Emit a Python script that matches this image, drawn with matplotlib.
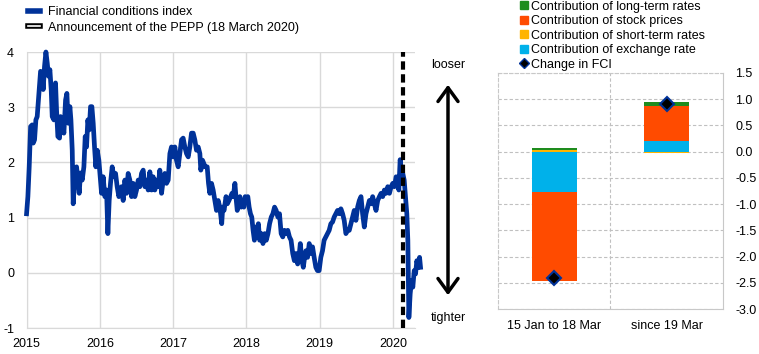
import matplotlib.pyplot as plt
from matplotlib.lines import Line2D
from matplotlib.legend_handler import HandlerTuple

plt.rcParams["font.family"] = ["Liberation Sans", "DejaVu Sans"]
plt.rcParams["axes.unicode_minus"] = False

# financial conditions index (decimal years)
fci_year = [
    2015.000, 2015.018, 2015.036, 2015.055, 2015.077, 2015.091, 2015.109, 2015.127,
    2015.145, 2015.168, 2015.191, 2015.214, 2015.227, 2015.245, 2015.264, 2015.282,
    2015.300, 2015.318, 2015.336, 2015.350, 2015.373, 2015.395, 2015.409, 2015.427,
    2015.450, 2015.464, 2015.486, 2015.509, 2015.532, 2015.550, 2015.568, 2015.591,
    2015.605, 2015.623, 2015.636, 2015.655, 2015.682, 2015.700, 2015.718, 2015.736,
    2015.759, 2015.782, 2015.800, 2015.818, 2015.836, 2015.855, 2015.873, 2015.891,
    2015.909, 2015.927, 2015.945, 2015.964, 2015.986, 2016.009, 2016.023, 2016.045,
    2016.068, 2016.091, 2016.109, 2016.127, 2016.145, 2016.168, 2016.191, 2016.214,
    2016.236, 2016.259,
    2016.295, 2016.318, 2016.341, 2016.364, 2016.386, 2016.409, 2016.432, 2016.455,
    2016.477, 2016.500, 2016.523, 2016.545, 2016.568, 2016.591, 2016.614, 2016.636,
    2016.659, 2016.682, 2016.705, 2016.727, 2016.750, 2016.773, 2016.795, 2016.818,
    2016.841, 2016.864, 2016.886, 2016.909, 2016.932, 2016.955, 2016.977, 2017.000,
    2017.023, 2017.045, 2017.068, 2017.091, 2017.114, 2017.136, 2017.159, 2017.182,
    2017.205, 2017.227, 2017.250, 2017.273, 2017.295, 2017.318, 2017.341, 2017.364,
    2017.377, 2017.400, 2017.418, 2017.436, 2017.464, 2017.482, 2017.500, 2017.523,
    2017.545, 2017.568, 2017.591, 2017.614, 2017.636,
    2017.662, 2017.676, 2017.694, 2017.721, 2017.739, 2017.761, 2017.784, 2017.802,
    2017.820, 2017.842, 2017.856, 2017.874, 2017.892, 2017.910, 2017.928, 2017.946,
    2017.964, 2017.982, 2018.000, 2018.018, 2018.036, 2018.054, 2018.072, 2018.090,
    2018.108, 2018.126, 2018.144, 2018.162, 2018.180, 2018.203, 2018.225, 2018.248,
    2018.270, 2018.293, 2018.315, 2018.338, 2018.360, 2018.383, 2018.405, 2018.428,
    2018.450, 2018.473, 2018.495, 2018.518, 2018.541, 2018.563, 2018.586, 2018.608,
    2018.631, 2018.653, 2018.676, 2018.698, 2018.721, 2018.734, 2018.757, 2018.775,
    2018.793, 2018.811, 2018.833, 2018.856, 2018.878, 2018.901, 2018.923, 2018.946,
    2018.968, 2018.991,
    2019.014, 2019.037, 2019.059, 2019.082, 2019.105, 2019.128, 2019.151, 2019.174,
    2019.196, 2019.219, 2019.242, 2019.265, 2019.288, 2019.311, 2019.333, 2019.356,
    2019.379, 2019.402, 2019.425, 2019.447, 2019.470, 2019.493, 2019.516, 2019.539,
    2019.562, 2019.584, 2019.607, 2019.630, 2019.653, 2019.676, 2019.699, 2019.721,
    2019.744, 2019.767, 2019.790, 2019.813, 2019.836, 2019.858, 2019.881, 2019.904,
    2019.927, 2019.950, 2019.973, 2019.995, 2020.018, 2020.041, 2020.064, 2020.078,
    2020.096, 2020.114, 2020.132, 2020.151, 2020.169, 2020.187, 2020.201, 2020.215,
    2020.233, 2020.251, 2020.269, 2020.288, 2020.306, 2020.324, 2020.342, 2020.361,
    2020.374,
]
fci_value = [
    1.07, 1.38, 1.92, 2.65, 2.68, 2.35, 2.41, 2.77,
    2.83, 3.25, 3.65, 3.62, 3.32, 3.74, 4.00, 3.80,
    3.56, 3.68, 3.32, 2.83, 2.77, 3.44, 2.95, 2.47,
    2.44, 2.83, 2.77, 2.53, 3.13, 3.25, 2.71, 3.01,
    2.77, 2.22, 1.25, 1.68, 1.92, 1.68, 1.44, 1.81,
    1.68, 1.92, 2.47, 2.28, 2.77, 2.59, 3.01, 3.01,
    2.71, 2.28, 1.92, 2.22, 2.04, 1.68, 1.44, 1.74,
    1.38, 1.50, 0.71, 1.31, 1.62, 1.92, 1.74, 1.80,
    1.56, 1.38,
    1.56, 1.31, 1.68, 1.44, 1.80, 1.68, 1.38, 1.62,
    1.38, 1.50, 1.68, 1.56, 1.80, 1.86, 1.56, 1.68,
    1.50, 1.83, 1.50, 1.74, 1.50, 1.68, 1.56, 1.86,
    1.44, 1.68, 1.80, 1.62, 1.68, 2.16, 2.28, 2.10,
    2.28, 2.04, 1.92, 2.16, 2.41, 2.44, 2.28, 2.16,
    2.10, 2.28, 2.53, 2.53, 2.41, 2.22, 2.28, 2.16,
    1.86, 2.04, 1.98, 1.92, 1.92, 1.62, 1.44, 1.62,
    1.50, 1.31, 1.13, 1.31, 1.19,
    0.89, 1.19, 1.13, 1.38, 1.25, 1.31, 1.38, 1.44,
    1.38, 1.62, 1.38, 1.13, 1.25, 1.38, 1.19, 1.31,
    1.19, 1.38, 1.31, 1.38, 1.19, 1.07, 1.01, 0.77,
    0.59, 0.83, 0.71, 0.89, 0.59, 0.71, 0.53, 0.71,
    0.59, 0.71, 0.89, 1.01, 1.07, 1.19, 1.13, 1.01,
    1.07, 0.71, 0.65, 0.77, 0.71, 0.77, 0.65, 0.59,
    0.35, 0.22, 0.35, 0.16, 0.35, 0.53, 0.22, 0.10,
    0.28, 0.40, 0.28, 0.53, 0.35, 0.47, 0.28, 0.10,
    0.04, 0.04,
    0.28, 0.40, 0.59, 0.65, 0.71, 0.77, 0.89, 0.92,
    1.01, 1.07, 1.13, 1.07, 1.16, 1.07, 0.95, 0.71,
    0.77, 0.77, 0.89, 1.01, 1.13, 0.95, 1.19, 1.31,
    1.38, 1.07, 0.83, 1.07, 1.19, 1.31, 1.25, 1.38,
    1.25, 1.13, 1.31, 1.38, 1.44, 1.38, 1.50, 1.44,
    1.56, 1.44, 1.56, 1.62, 1.56, 1.74, 1.68, 1.50,
    2.05, 1.86, 1.80, 1.68, 1.38, 1.07, 0.59, -0.81,
    -0.38, -0.14, -0.26, 0.04, -0.02, 0.22, 0.10, 0.28,
    0.10,
]
pepp_year = 2020.14
year_ticks = [2015, 2016, 2017, 2018, 2019, 2020]

# decomposition of the change in FCI
periods = ["15 Jan to 18 Mar", "since 19 Mar"]
exchange_rate = [-0.77, 0.21]
short_term = [0.04, -0.03]
stock_prices = [-1.70, 0.67]
long_term = [0.03, 0.06]
fci_change = [-2.40, 0.91]

blue = "#003299"
grid = "#d9d9d9"

fig = plt.figure(figsize=(7.59, 3.54), dpi=100)
ax1 = fig.add_axes([0.035, 0.0734, 0.5119, 0.7797])
ax2 = fig.add_axes([0.6561, 0.1271, 0.2964, 0.6667])

# left panel
ax1.plot(fci_year, fci_value, color=blue, lw=3.4, clip_on=False,
         solid_joinstyle="round", zorder=3)
ax1.axvline(pepp_year, color="black", lw=3, dashes=(2, 1.1), zorder=4)
ax1.set_xlim(2015, 2020.3)
ax1.set_ylim(-1, 4)
ax1.set_xticks(year_ticks)
ax1.set_yticks(range(-1, 5))
ax1.grid(True, color=grid, lw=1)
ax1.set_axisbelow(True)
for s in ["top", "right"]:
    ax1.spines[s].set_visible(False)
for s in ["left", "bottom"]:
    ax1.spines[s].set_color(grid)
ax1.tick_params(length=0, labelsize=9, colors="black")
ax1.tick_params(axis="y", pad=9)
ax1.tick_params(axis="x", pad=7)

h_fci = Line2D([], [], color=blue, lw=4)
h_pepp = (Line2D([], [], color="black", lw=4), Line2D([], [], color="white", lw=1.2))
fig.legend([h_fci, h_pepp], ["Financial conditions index", "Announcement of the PEPP (18 March 2020)"],
           loc="upper left", bbox_to_anchor=(0.033, 0.99), frameon=False, fontsize=9,
           handlelength=1.0, handletextpad=0.6, labelspacing=0.3, borderpad=0.2,
           borderaxespad=0, handler_map={tuple: HandlerTuple(ndivide=1)})

# looser / tighter arrow
ax1.annotate("", xy=(448 / 759, 1 - 82 / 354), xytext=(448 / 759, 1 - 298 / 354),
             xycoords="figure fraction", textcoords="figure fraction",
             arrowprops=dict(arrowstyle="<->,head_length=0.55,head_width=0.4",
                             lw=2.5, color="black", mutation_scale=18))
fig.text(448 / 759, 1 - 65 / 354, "looser", ha="center", va="center", fontsize=9)
fig.text(448 / 759, 1 - 318 / 354, "tighter", ha="center", va="center", fontsize=9)

# right panel
x = list(range(len(periods)))
series = [
    (exchange_rate, "#00b1ea", "Contribution of exchange rate"),
    (short_term, "#ffb400", "Contribution of short-term rates"),
    (stock_prices, "#ff4b00", "Contribution of stock prices"),
    (long_term, "#1e8c1e", "Contribution of long-term rates"),
]
pos_base = [0.0] * len(periods)
neg_base = [0.0] * len(periods)
for vals, col, lab in series:
    bottoms = [pos_base[i] if v >= 0 else neg_base[i] for i, v in enumerate(vals)]
    ax2.bar(x, vals, 0.4, bottom=bottoms, color=col, zorder=2)
    for i, v in enumerate(vals):
        if v >= 0:
            pos_base[i] += v
        else:
            neg_base[i] += v
ax2.plot(x, fci_change, ls="", marker="D", ms=7, mfc="black", mec=blue, mew=1.5, zorder=3)

ax2.set_xlim(-0.5, 1.5)
ax2.set_ylim(-3, 1.5)
ax2.set_xticks(x)
ax2.set_xticklabels(periods)
ax2.set_yticks([1.5 - 0.5 * i for i in range(10)])
ax2.yaxis.set_major_formatter("{x:.1f}")
ax2.yaxis.tick_right()
ax2.tick_params(length=0, labelsize=9, colors="black")
ax2.tick_params(axis="y", pad=9)
ax2.tick_params(axis="x", pad=8)
ax2.grid(axis="y", color="#c0c0c0", ls=(0, (3, 2)), lw=0.8)
ax2.axvline(0.5, color="#c0c0c0", ls=(0, (3, 2)), lw=0.8, zorder=1)
ax2.set_axisbelow(True)
for s in ax2.spines.values():
    s.set_color("#c8c8c8")
    s.set_linewidth(0.8)
ax2.spines["top"].set_linestyle((0, (3, 2)))
ax2.spines["left"].set_linestyle((0, (3, 2)))

leg_handles = [Line2D([], [], ls="", marker="s", ms=6, color=col) for _, col, _ in series[::-1]]
leg_labels = [lab for _, _, lab in series[::-1]]
leg_handles.append(Line2D([], [], ls="", marker="D", ms=5, mfc="black", mec=blue, mew=1))
leg_labels.append("Change in FCI")
fig.legend(leg_handles, leg_labels, loc="upper left", bbox_to_anchor=(0.683, 1.005),
           frameon=False, fontsize=9, handlelength=0.5, handletextpad=0.3,
           labelspacing=0.2, borderpad=0.2, borderaxespad=0)

fig.savefig("out.png", dpi=100)
